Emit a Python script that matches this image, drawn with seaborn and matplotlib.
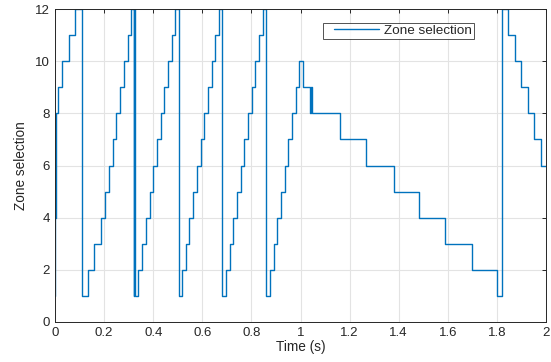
import numpy as np
import pandas as pd
import seaborn as sns
import matplotlib
matplotlib.use('Agg')
import matplotlib.pyplot as plt
from matplotlib.lines import Line2D
from matplotlib.legend_handler import HandlerLine2D


# switching instants (s) and the zone chosen from that instant on
switch_times = [0.000, 0.001, 0.003, 0.005, 0.011, 0.027, 0.057, 0.083,
                0.109, 0.133, 0.160, 0.187, 0.205, 0.220, 0.235, 0.250, 0.265, 0.280, 0.296, 0.310,
                0.321, 0.3235, 0.325, 0.339, 0.356, 0.371, 0.386, 0.400, 0.415, 0.430, 0.445, 0.460, 0.475, 0.490,
                0.504, 0.519, 0.532, 0.547, 0.562, 0.577, 0.593, 0.608, 0.623, 0.638, 0.653, 0.667,
                0.681, 0.696, 0.711, 0.726, 0.741, 0.756, 0.771, 0.787, 0.803, 0.816, 0.831, 0.846,
                0.861, 0.876, 0.891, 0.905, 0.920, 0.935, 0.950, 0.965, 0.980, 0.992,
                1.011, 1.037, 1.041, 1.047, 1.162, 1.268, 1.379, 1.483, 1.589, 1.698, 1.802,
                1.822, 1.846, 1.872, 1.900, 1.926, 1.952, 1.978, 2.000]
zones = [1, 4, 6, 8, 9, 10, 11, 12,
         1, 2, 3, 4, 5, 6, 7, 8, 9, 10, 11, 12,
         1, 12, 1, 2, 3, 4, 5, 6, 7, 8, 9, 10, 11, 12,
         1, 2, 3, 4, 5, 6, 7, 8, 9, 10, 11, 12,
         1, 2, 3, 4, 5, 6, 7, 8, 9, 10, 11, 12,
         1, 2, 3, 4, 5, 6, 7, 8, 9, 10,
         9, 8, 9, 8, 7, 6, 5, 4, 3, 2, 1,
         12, 11, 10, 9, 8, 7, 6, 6]

x_ticks = [0, 0.2, 0.4, 0.6, 0.8, 1, 1.2, 1.4, 1.6, 1.8, 2]
x_tick_labels = ['0', '0.2', '0.4', '0.6', '0.8', '1', '1.2', '1.4', '1.6', '1.8', '2']
y_ticks = [0, 2, 4, 6, 8, 10, 12]

df = pd.DataFrame({'Time (s)': switch_times, 'Zone selection': zones})

sns.set_style('white')
plt.rcParams['font.family'] = ['Liberation Sans', 'DejaVu Sans']

fig = plt.figure(figsize=(5.51, 3.62), dpi=100)
ax = fig.add_axes([55 / 551, 40 / 362, 491 / 551, 313 / 362])

sns.lineplot(data=df, x='Time (s)', y='Zone selection', ax=ax,
             estimator=None, sort=False, drawstyle='steps-post',
             color='#0072BD', linewidth=1.0, label='Zone selection')

ax.set_xlim(0, 2)
ax.set_ylim(0, 12)
ax.set_xticks(x_ticks)
ax.set_xticklabels(x_tick_labels)
ax.set_yticks(y_ticks)
ax.grid(True, color='#e3e3e3', linewidth=0.8)
ax.set_axisbelow(True)
ax.tick_params(direction='in', top=True, right=True, length=3,
               labelsize=9.5, colors='#262626', width=0.7)
ax.set_xlabel('Time (s)', fontsize=9.8, color='#262626', labelpad=1)
ax.set_ylabel('Zone selection', fontsize=9.8, color='#262626', labelpad=5)
for s in ax.spines.values():
    s.set_color('#262626')
    s.set_linewidth(0.7)

# MATLAB-style legend: inset line sample
leg = ax.legend(loc='upper right', bbox_to_anchor=(0.853, 0.955), fontsize=9.7,
                frameon=True, fancybox=False, handlelength=4.7, borderpad=0.12,
                handletextpad=-0.3, borderaxespad=0,
                handler_map={Line2D: HandlerLine2D(marker_pad=0.7, numpoints=2)})
leg.get_frame().set_edgecolor('#262626')
leg.get_frame().set_linewidth(0.7)

fig.savefig('out.png', dpi=100)
